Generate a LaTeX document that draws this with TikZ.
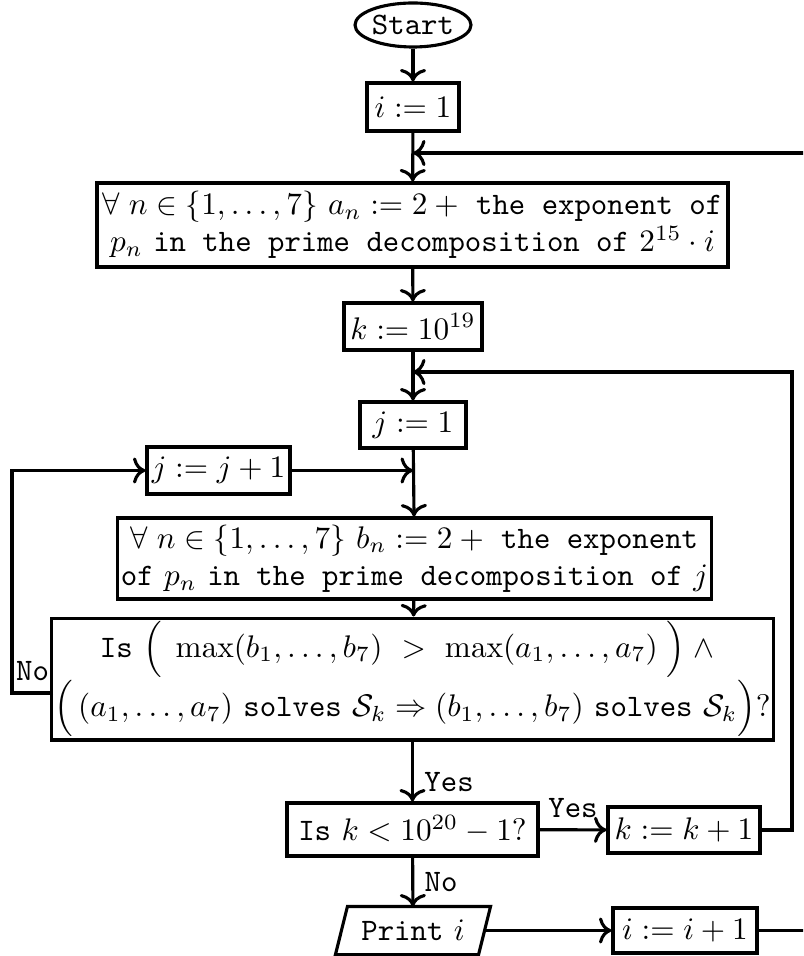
\documentclass[tikz,border=0pt]{standalone}
\usetikzlibrary{shapes.geometric,arrows.meta}
\def\P{0.32pt}
\begin{document}
\begin{tikzpicture}[x=0.32pt,y=-0.32pt, line width=1pt,
  >={Computer Modern Rightarrow[scale=1.05]},
  box/.style={draw, rectangle, inner sep=1pt, align=center},
  startnode/.style={draw, ellipse, inner sep=0pt},
  lbl/.style={font=\ttfamily},
  arr/.style={->}]
\useasboundingbox (0,0) rectangle (803,956);
\clip (0,0) rectangle (803,956);

\node[startnode, font=\ttfamily, minimum width=108*\P, minimum height=44*\P] (start) at (413,25) {Start};
\node[box, minimum width=92*\P, minimum height=48*\P] (i1) at (413,107) {$i:=1$};
\coordinate (m1) at (413,153);
\node[box, minimum width=631*\P, minimum height=84*\P] (an) at (412.5,225)
  {$\forall\;n\in\{1,\ldots,7\}$ $a_n:=2+{}$ \texttt{the exponent of}\\ $p_n$ \texttt{in the prime decomposition of} $2^{15}\cdot i$};
\node[box, minimum width=138*\P, minimum height=47*\P] (k) at (413,326.5) {$k:=10^{19}$};
\coordinate (m2) at (413,372);
\node[box, minimum width=106*\P, minimum height=46*\P] (j1) at (413,425) {$j:=1$};
\node[box, minimum width=143*\P, minimum height=47*\P] (jj) at (218.5,470.5) {$j:=j+1$};
\coordinate (m3) at (413,470.5);
\node[box, minimum width=585*\P, minimum height=81*\P] (bn) at (414.5,558.5)
  {$\forall\;n\in\{1,\ldots,7\}$ $b_n:=2+{}$ \texttt{the exponent}\\ \texttt{of} $p_n$ \texttt{in the prime decomposition of} $j$};
\node[box, minimum width=719*\P, minimum height=84*\P] (dec) at (412.5,679)
  {\texttt{Is} $\Big(\;\max(b_1,\ldots,b_7)\ >\ \max(a_1,\ldots,a_7)\;\Big)\;\wedge\ $\\
   $\Big(\left(a_1,\ldots,a_7\right)$ \texttt{solves} $\mathcal{S}_k\Rightarrow\left(b_1,\ldots,b_7\right)$ \texttt{solves} $\mathcal{S}_k\Big)?$};
\node[box, minimum width=251*\P, minimum height=53*\P] (isk) at (412.5,829.5) {\texttt{Is} $k<10^{20}-1?$};
\node[box, minimum width=152*\P, minimum height=46*\P] (kk) at (684,830) {$k:=k+1$};
\node[inner sep=1pt, minimum width=128*\P, minimum height=45*\P] (pr) at (413,930.5) {\texttt{Print} $i$};
\draw ([xshift=-12*\P]pr.south west) -- (pr.north west) -- ([xshift=12*\P]pr.north east) -- (pr.south east) -- cycle;
\coordinate (pre) at ([xshift=6*\P]pr.east);
\node[box, minimum width=144*\P, minimum height=45*\P] (ii) at (685,930.5) {$i:=i+1$};

\coordinate (c1) at (815,153);
\coordinate (c2) at (792,372);
\coordinate (d1) at (53,693);
\coordinate (c3) at (12,693);

\draw[arr] (start) -- (i1);
\draw[arr] (i1) -- (an);
\draw[arr] (an) -- (k);
\draw[arr] (k) -- (j1);
\draw[arr] (j1) -- (bn);
\draw[arr] (bn) -- (dec);
\draw[arr] (dec) -- node[lbl, right, pos=0.68]{Yes} (isk);
\draw[arr] (isk) -- node[lbl, above]{Yes} (kk);
\draw[arr] (isk) -- node[lbl, right]{No} (pr);
\draw[arr] (pre) -- (ii);
\draw[arr] (jj) -- (m3);
\draw[arr] (ii.east) -| (c1) -- (m1);
\draw[arr] (kk.east) -| (c2) -- (m2);
\draw[arr] (d1) -- node[lbl, above]{No} (c3) |- (jj.west);
\end{tikzpicture}
\end{document}
